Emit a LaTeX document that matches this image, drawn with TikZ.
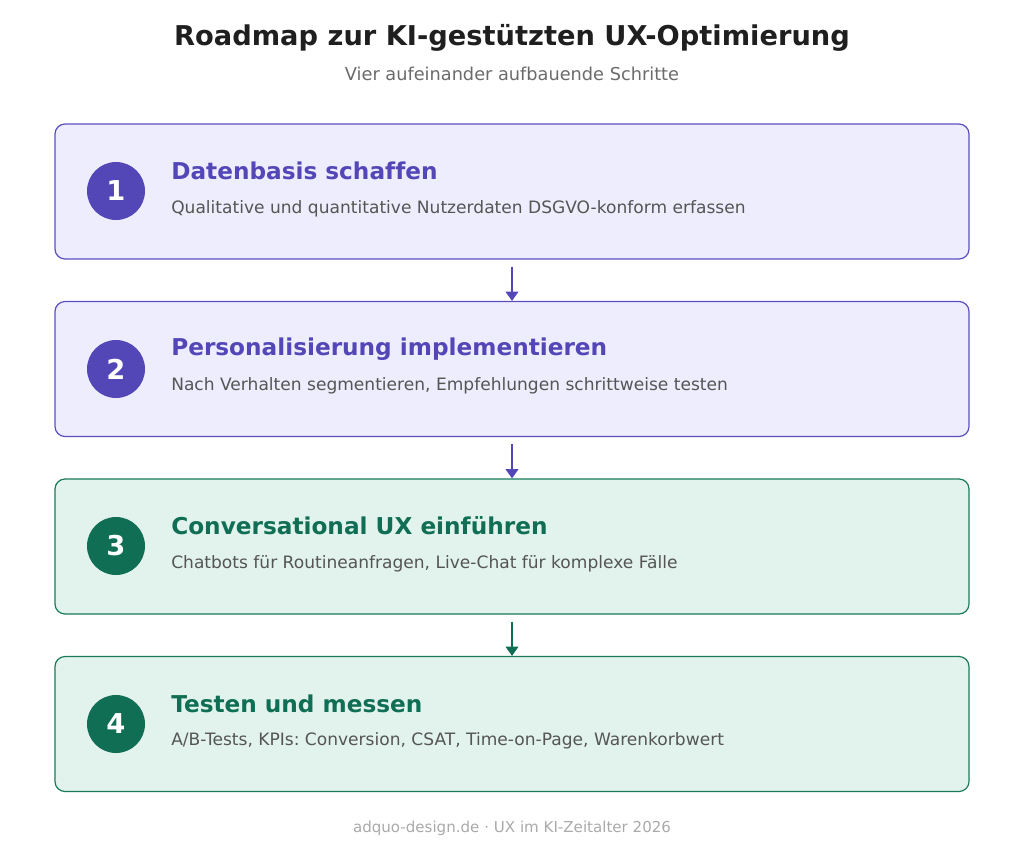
\documentclass[tikz,border=0pt]{standalone}
\usepackage{fontspec}
\setmainfont[Ligatures={NoCommon}]{DejaVu Sans}
\usetikzlibrary{arrows.meta}
\definecolor{pfill}{HTML}{EEEDFD}
\definecolor{pline}{HTML}{5B4FC0}
\definecolor{pcirc}{HTML}{5347B8}
\definecolor{gfill}{HTML}{E1F3EC}
\definecolor{gline}{HTML}{1A7A5C}
\definecolor{gcirc}{HTML}{0F6E53}
\definecolor{titlec}{HTML}{1F1F1F}
\definecolor{subc}{HTML}{6B6B6B}
\definecolor{descc}{HTML}{555555}
\definecolor{footc}{HTML}{AAAAAA}
\frenchspacing
\tikzset{
  card/.style={draw=#1, line width=0.9pt, rounded corners=7.5pt, minimum width=685.5pt, minimum height=101.25pt, inner sep=0pt},
  num/.style={circle, fill=#1, minimum size=43.5pt, inner sep=0pt, text=white, font=\bfseries\fontsize{20.5}{24}\selectfont},
  head/.style={anchor=west, inner sep=0pt, text=#1, font=\bfseries\fontsize{17.4}{21}\selectfont},
  desc/.style={anchor=west, inner sep=0pt, text=descc, font=\fontsize{12.8}{15}\selectfont},
  conn/.style={draw=#1, line width=1.5pt, -{Triangle[width=9.5pt,length=7pt]}},
}
\begin{document}
\begin{tikzpicture}[x=0.75pt,y=-0.75pt]
\useasboundingbox[fill=white] (0,0) rectangle (1024,847);
\node[font=\bfseries\fontsize{20.45}{25}\selectfont, text=titlec] (title) at (512,38) {Roadmap zur KI-gestützten UX-Optimierung};
\node[font=\fontsize{13.3}{16}\selectfont, text=subc] (sub) at (512,74) {Vier aufeinander aufbauende Schritte};

\node[card=pline, fill=pfill] (b1) at (512,191.5) {};
\node[card=pline, fill=pfill] (b2) at (512,369) {};
\node[card=gline, fill=gfill] (b3) at (512,546.5) {};
\node[card=gline, fill=gfill] (b4) at (512,724) {};

\node[num=pcirc] (n1) at (116,191) {1};
\node[num=pcirc] (n2) at (116,369) {2};
\node[num=gcirc] (n3) at (116,546) {3};
\node[num=gcirc] (n4) at (116,724) {4};

\node[head=pcirc] (h1) at (171,171) {Datenbasis schaffen};
\node[desc] (d1) at (171,209) {Qualitative und quantitative Nutzerdaten DSGVO-konform erfassen};
\node[head=pcirc] (h2) at (171,349) {Personalisierung implementieren};
\node[desc] (d2) at (171,386) {Nach Verhalten segmentieren, Empfehlungen schrittweise testen};
\node[head=gcirc] (h3) at (171,526) {Conversational UX einführen};
\node[desc] (d3) at (171,564) {Chatbots für Routineanfragen, Live-Chat für komplexe Fälle};
\node[head=gcirc] (h4) at (171,704) {Testen und messen};
\node[desc] (d4) at (171,741) {A/B-Tests, KPIs: Conversion, CSAT, Time-on-Page, Warenkorbwert};

\draw[conn=pcirc] ([yshift=-5.25pt]b1.south) -- (b2.north);
\draw[conn=pcirc] ([yshift=-5.25pt]b2.south) -- (b3.north);
\draw[conn=gcirc] ([yshift=-5.25pt]b3.south) -- (b4.north);

\node[font=\fontsize{11.3}{14}\selectfont, text=footc] (foot) at (512,828) {adquo-design.de · UX im KI-Zeitalter 2026};
\end{tikzpicture}
\end{document}
